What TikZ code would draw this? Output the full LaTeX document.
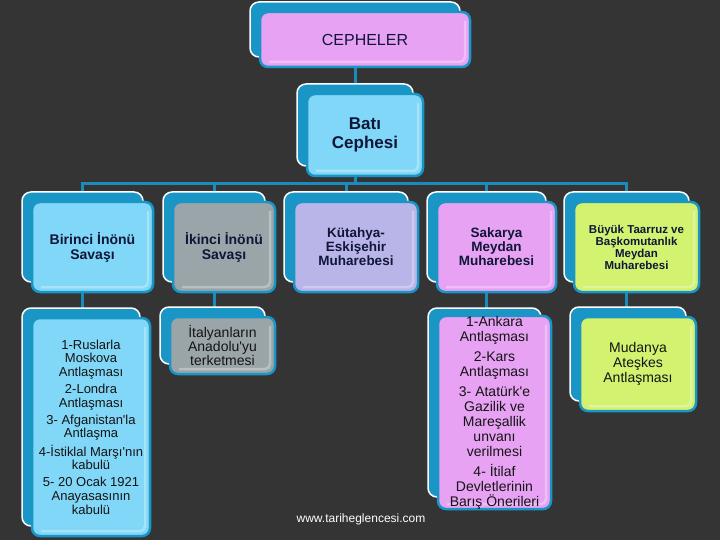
\documentclass[tikz,border=0pt]{standalone}
\usepackage{fontspec}
\setmainfont{Liberation Sans}[Ligatures=TeXOff]
\pgfdeclarelayer{bglayer}
\pgfdeclarelayer{connlayer}
\pgfsetlayers{bglayer,connlayer,main}
\definecolor{bgc}{HTML}{343434}
\definecolor{bluec}{HTML}{1995C6}
\definecolor{connc}{HTML}{1A8CBC}
\definecolor{pinkc}{HTML}{E8A2F3}
\definecolor{lbluec}{HTML}{80D7F7}
\definecolor{grayc}{HTML}{9AA5A9}
\definecolor{lavc}{HTML}{B9B5E9}
\definecolor{limec}{HTML}{D2F270}
\definecolor{navyc}{HTML}{101638}
\definecolor{blackc}{HTML}{141414}
\tikzset{
  backbox/.style={draw=white, line width=1.5pt, fill=bluec, rounded corners=9pt,
    inner sep=0pt, outer sep=0pt},
  frontbox/.style={draw=bluec, line width=2.5pt, rounded corners=8pt,
    inner sep=0pt, outer sep=0pt, align=center,
    path picture={\draw[white,opacity=0.3,line width=2.5pt,rounded corners=5pt]
      ([xshift=-5pt,yshift=-9pt]path picture bounding box.north east) --
      ([xshift=-5pt,yshift=5pt]path picture bounding box.south east) --
      ([xshift=9pt,yshift=5pt]path picture bounding box.south west);}},
  titlefont/.style={text=navyc, font=\bfseries\fontsize{14}{15}\selectfont},
  smallfont/.style={text=navyc, font=\bfseries\fontsize{11.5}{12}\selectfont},
  subfont/.style={text=blackc, font=\fontsize{13}{13.6}\selectfont},
  subbig/.style={text=blackc, font=\fontsize{14}{15}\selectfont},
  conn/.style={draw=connc, line width=3pt}
}
\newcommand\mkbox[8]{%
  \pgfmathsetmacro\mkbw{#4-#2}%
  \pgfmathsetmacro\mkbh{#5-#3}%
  \node[backbox, minimum width=\mkbw pt, minimum height=\mkbh pt] (#1B)
    at ({(#2+#4)/2},{(#3+#5)/2}) {};
  \node[frontbox, fill=#6, minimum width=\mkbw pt, minimum height=\mkbh pt, #7] (#1)
    at ({(#2+#4)/2+10},{(#3+#5)/2+10}) {#8};
}
\begin{document}
\begin{tikzpicture}[x=1pt,y=-1pt]
\begin{pgfonlayer}{bglayer}
  \fill[bgc] (0,0) rectangle (720,540);
\end{pgfonlayer}
\useasboundingbox (0,0) rectangle (720,540);

\mkbox{cep}{250}{2}{460}{57}{pinkc}{text=navyc, font=\fontsize{16}{19}\selectfont}{CEPHELER}
\mkbox{bati}{297}{84}{413}{166}{lbluec}{text=navyc, font=\bfseries\fontsize{17}{19}\selectfont}{Batı\\Cephesi}

\mkbox{bir}{22}{192}{143}{282}{lbluec}{titlefont}{Birinci İnönü\\Savaşı}
\mkbox{iki}{163}{192}{265}{282}{grayc}{titlefont}{İkinci İnönü\\Savaşı}
\mkbox{kut}{284}{192}{408}{282}{lavc}{titlefont, font=\bfseries\fontsize{13.5}{14}\selectfont}{Kütahya-\\Eskişehir\\Muharebesi}
\mkbox{sak}{427}{192}{546}{282}{pinkc}{titlefont, font=\bfseries\fontsize{13.5}{14}\selectfont}{Sakarya\\Meydan\\Muharebesi}
\mkbox{buy}{564}{192}{689}{282}{limec}{smallfont}{Büyük Taarruz ve\\Başkomutanlık\\Meydan\\Muharebesi}

\mkbox{birsub}{22}{308}{140}{526}{lbluec}{subfont}{1-Ruslarla\\Moskova\\Antlaşması\\[3.5pt]2-Londra\\Antlaşması\\[3.5pt]3- Afganistan'la\\Antlaşma\\[3.5pt]4-İstiklal Marşı'nın\\kabulü\\[3.5pt]5- 20 Ocak 1921\\Anayasasının\\kabulü}
\mkbox{ikisub}{160}{307}{265}{364}{grayc}{subbig, font=\fontsize{14}{14}\selectfont}{İtalyanların\\Anadolu'yu\\terketmesi}
\mkbox{saksub}{428}{308}{541}{497}{pinkc}{subbig}{1-Ankara\\Antlaşması\\[5pt]2-Kars\\Antlaşması\\[5pt]3- Atatürk'e\\Gazilik ve\\Mareşallik\\unvanı\\verilmesi\\[5pt]4- İtilaf\\Devletlerinin\\Barış Önerileri}
\mkbox{mud}{570}{307}{686}{401}{limec}{subbig}{Mudanya\\Ateşkes\\Antlaşması}

\node[text=white, font=\fontsize{12}{14}\selectfont, inner sep=0pt] (web) at (361,519) {www.tariheglencesi.com};

\begin{pgfonlayer}{connlayer}
  \coordinate (bus) at (355,183.5);
  \draw[conn] (cepB.south) -- (batiB.north);
  \draw[conn] (batiB.south) -- (bus);
  \foreach \c in {birB,ikiB,kutB,sakB,buyB}{
    \draw[conn] (\c.north) |- (bus);
  }
  \draw[conn] (birB.south) -- (birB.south |- birsubB.north);
  \draw[conn] (ikiB.south) -- (ikiB.south |- ikisubB.north);
  \draw[conn] (sakB.south) -- (sakB.south |- saksubB.north);
  \draw[conn] (buyB.south) -- (buyB.south |- mudB.north);
\end{pgfonlayer}
\end{tikzpicture}
\end{document}
